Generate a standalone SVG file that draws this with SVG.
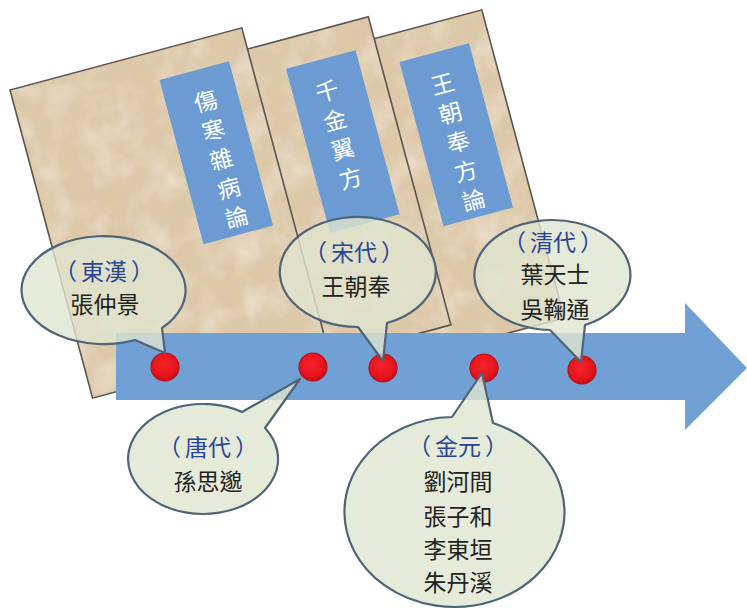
<svg xmlns="http://www.w3.org/2000/svg" width="747" height="611" viewBox="0 0 747 611">
  <defs>
    <style>
      .paper { fill: #ddc8a8; }
      .edge { fill: none; stroke: #5a5550; stroke-width: 1.6; }
      .tag { fill: #6b9bd2; }
      .title { font-family: "Noto Sans CJK TC", "Noto Sans CJK SC", sans-serif; font-size: 23px; fill: #ffffff; text-anchor: middle; }
      .bubble { fill: #e0e5cf; fill-opacity: 0.8; stroke: #4f6478; stroke-width: 2.2; stroke-linejoin: round; }
      .era { font-family: "Noto Sans CJK TC", "Noto Sans CJK SC", sans-serif; font-size: 23px; fill: #2a4596; text-anchor: middle; }
      .name { font-family: "Noto Sans CJK TC", "Noto Sans CJK SC", sans-serif; font-size: 23px; fill: #222222; text-anchor: middle; }
      .dot { fill: url(#dotFill); stroke: #b5121a; stroke-width: 1.2; }
    </style>
    <!-- mottled parchment: soft light and dark blotches over the base colour -->
    <filter id="paper" x="-5%" y="-5%" width="110%" height="110%">
      <feTurbulence type="fractalNoise" baseFrequency="0.035" numOctaves="4" seed="7" result="n1"/>
      <feColorMatrix in="n1" type="matrix" values="0 0 0 0 0.94  0 0 0 0 0.88  0 0 0 0 0.78  0 0 0 0.9 -0.36" result="light"/>
      <feComposite in="light" in2="SourceGraphic" operator="in" result="lightSpots"/>
      <feTurbulence type="fractalNoise" baseFrequency="0.06" numOctaves="3" seed="21" result="n2"/>
      <feColorMatrix in="n2" type="matrix" values="0 0 0 0 0.70  0 0 0 0 0.58  0 0 0 0 0.44  0 0 0 0.6 -0.25" result="dark"/>
      <feComposite in="dark" in2="SourceGraphic" operator="in" result="darkSpots"/>
      <feMerge>
        <feMergeNode in="SourceGraphic"/>
        <feMergeNode in="darkSpots"/>
        <feMergeNode in="lightSpots"/>
      </feMerge>
    </filter>
    <radialGradient id="dotFill" cx="0.45" cy="0.4" r="0.6">
      <stop offset="0" stop-color="#f5222a"/>
      <stop offset="0.75" stop-color="#e5141c"/>
      <stop offset="1" stop-color="#c10f18"/>
    </radialGradient>
  </defs>

  <!-- books, back to front -->
  <g id="book-wangchaofeng" transform="translate(250,72) rotate(-15)">
    <rect class="paper" x="0" y="0" width="240" height="319" filter="url(#paper)"/>
    <rect class="edge" x="0" y="0" width="240" height="319"/>
    <rect class="tag" x="147" y="29" width="72" height="170"/>
    <text class="title" x="183" y="70">王<tspan x="183" dy="30">朝</tspan><tspan x="183" dy="30">奉</tspan><tspan x="183" dy="30">方</tspan><tspan x="183" dy="30">論</tspan></text>
  </g>
  <g id="book-qianjin" transform="translate(136.5,78.8) rotate(-15)">
    <rect class="paper" x="0" y="0" width="240" height="319" filter="url(#paper)"/>
    <rect class="edge" x="0" y="0" width="240" height="319"/>
    <rect class="tag" x="147" y="29" width="72" height="170"/>
    <text class="title" x="181" y="70">千<tspan x="181" dy="30">金</tspan><tspan x="181" dy="30">翼</tspan><tspan x="181" dy="30">方</tspan></text>
  </g>
  <g id="book-shanghan" transform="translate(10,90) rotate(-15)">
    <rect class="paper" x="0" y="0" width="240" height="319" filter="url(#paper)"/>
    <rect class="edge" x="0" y="0" width="240" height="319"/>
    <rect class="tag" x="147" y="29" width="72" height="170"/>
    <text class="title" x="186" y="70">傷<tspan x="186" dy="30">寒</tspan><tspan x="186" dy="30">雜</tspan><tspan x="186" dy="30">病</tspan><tspan x="186" dy="30">論</tspan></text>
  </g>

  <!-- timeline arrow -->
  <g id="timeline">
    <path d="M116 333 H685 V303 L747 368 L685 430 V400 H116 Z" fill="#71a0d5"/>
  </g>

  <!-- points on the timeline -->
  <g id="points">
    <circle class="dot" cx="165" cy="367" r="14"/>
    <circle class="dot" cx="313" cy="367" r="14"/>
    <circle class="dot" cx="383" cy="368" r="14"/>
    <circle class="dot" cx="484" cy="368" r="14"/>
    <circle class="dot" cx="582" cy="370" r="14"/>
  </g>

  <!-- callout connectors (bubble outlines with pointers) -->
  <g id="connectors">
    <path class="bubble" d="M162 328 A82 54 0 1 0 135 340 L165 353 Z"/>
    <path class="bubble" d="M265 428 A75 55 0 1 1 242 412 L300 379 Z"/>
    <path class="bubble" d="M358 327 A78 55 0 1 1 387 323 L383 361 Z"/>
    <path class="bubble" d="M550 330 A78 55 0 1 1 585 325 L581 362 Z"/>
    <path class="bubble" d="M493 423 A110 95 0 1 1 452 417 L482 373 Z"/>
  </g>

  <g id="donghan">
    <text class="era" x="104" y="280">（<tspan dx="4">東漢</tspan><tspan dx="4">）</tspan></text>
    <text class="name" x="105" y="313">張仲景</text>
  </g>
  <g id="tang">
    <text class="era" x="208" y="456">（<tspan dx="4">唐代</tspan><tspan dx="4">）</tspan></text>
    <text class="name" x="208" y="490">孫思邈</text>
  </g>
  <g id="song">
    <text class="era" x="354" y="261">（<tspan dx="4">宋代</tspan><tspan dx="4">）</tspan></text>
    <text class="name" x="356" y="295">王朝奉</text>
  </g>
  <g id="qing">
    <text class="era" x="553" y="251">（<tspan dx="4">清代</tspan><tspan dx="4">）</tspan></text>
    <text class="name" x="555" y="283">葉天士</text>
    <text class="name" x="555" y="318">吳鞠通</text>
  </g>
  <g id="jinyuan">
    <text class="era" x="458" y="455">（<tspan dx="4">金元</tspan><tspan dx="4">）</tspan></text>
    <text class="name" x="458" y="490">劉河間</text>
    <text class="name" x="458" y="525">張子和</text>
    <text class="name" x="458" y="558">李東垣</text>
    <text class="name" x="458" y="591">朱丹溪</text>
  </g>
</svg>
